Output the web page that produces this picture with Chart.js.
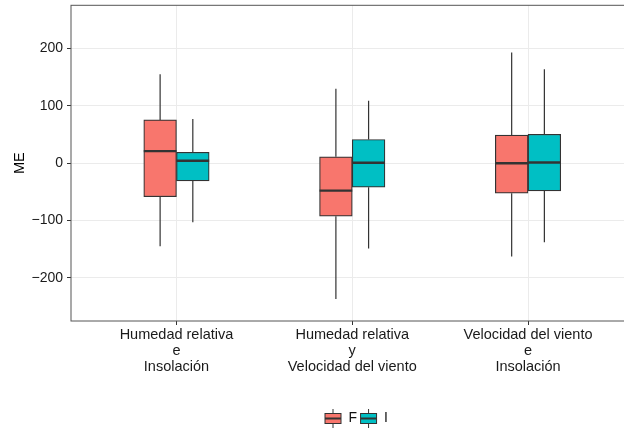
<!DOCTYPE html>
<html>
<head>
<meta charset="utf-8">
<script src="https://cdn.jsdelivr.net/npm/chart.js@4"></script>
<style>
  html, body { margin: 0; padding: 0; background: #fff; overflow: hidden; }
  #wrap { width: 650px; height: 440px; }
</style>
</head>
<body>
<div id="wrap"><canvas id="grafico" width="650" height="440"></canvas></div>
<script>
// Categorias (eje x) y valores
const categorias = [
  ['Humedad relativa', 'e', 'Insolación'],
  ['Humedad relativa', 'y', 'Velocidad del viento'],
  ['Velocidad del viento', 'e', 'Insolación']
];
const posiciones = [1, 2, 3];
const ticksY = [-200, -100, 0, 100, 200];

// Serie F
const minF = [-145, -237, -163];
const q1F = [-58.5, -92.5, -52.5];
const medF = [21, -48, -0.3];
const q3F = [75.5, 11, 49];
const maxF = [155, 130, 193];

// Serie I
const minI = [-103, -149, -138];
const q1I = [-31, -42, -48.5];
const medI = [4.3, 0.8, 1.2];
const q3I = [19, 41.3, 50.3];
const maxI = [77, 108.7, 164];

const colorF = '#F8766D';
const colorI = '#00BFC4';
const linea = '#333333';

const series = [
  { nombre: 'F', color: colorF, min: minF, q1: q1F, med: medF, q3: q3F, max: maxF },
  { nombre: 'I', color: colorI, min: minI, q1: q1I, med: medI, q3: q3I, max: maxI }
];

// icono de leyenda (mini boxplot)
function iconoCaja(color) {
  const c = document.createElement('canvas');
  c.width = 19; c.height = 19;
  const g = c.getContext('2d');
  g.strokeStyle = linea;
  g.lineWidth = 1;
  g.beginPath(); g.moveTo(9.5, 0); g.lineTo(9.5, 19); g.stroke();
  g.fillStyle = color;
  g.fillRect(1, 4, 17, 11);
  g.strokeRect(1.5, 4.5, 16, 10);
  g.lineWidth = 2;
  g.beginPath(); g.moveTo(1, 9.5); g.lineTo(18, 9.5); g.stroke();
  return c;
}

const datasets = series.map(s => ({
  label: s.nombre,
  data: posiciones.map((p, i) => ({ x: p, y: [s.q1[i], s.q3[i]] })),
  backgroundColor: s.color,
  borderColor: linea,
  borderWidth: 1.2,
  borderSkipped: false,
  barThickness: 32.7,
  stats: s
}));

const fmt = v => v < 0 ? '\u2212' + Math.abs(v) : String(v);

const cajas = {
  id: 'cajas',
  beforeDatasetsDraw(chart) {
    const ctx = chart.ctx;
    const y = chart.scales.y;
    ctx.save();
    // bigotes
    chart.data.datasets.forEach((ds, d) => {
      const meta = chart.getDatasetMeta(d);
      meta.data.forEach((bar, i) => {
        const s = ds.stats;
        ctx.strokeStyle = linea;
        ctx.lineWidth = 1.2;
        ctx.beginPath();
        ctx.moveTo(bar.x, y.getPixelForValue(s.max[i]));
        ctx.lineTo(bar.x, y.getPixelForValue(s.q3[i]));
        ctx.moveTo(bar.x, y.getPixelForValue(s.q1[i]));
        ctx.lineTo(bar.x, y.getPixelForValue(s.min[i]));
        ctx.stroke();
      });
    });
    ctx.restore();
  },
  afterDatasetsDraw(chart) {
    const ctx = chart.ctx;
    const y = chart.scales.y;
    const a = chart.chartArea;
    ctx.save();
    // medianas
    chart.data.datasets.forEach((ds, d) => {
      const meta = chart.getDatasetMeta(d);
      meta.data.forEach((bar, i) => {
        const py = y.getPixelForValue(ds.stats.med[i]);
        ctx.strokeStyle = linea;
        ctx.lineWidth = 2.4;
        ctx.beginPath();
        ctx.moveTo(bar.x - bar.width / 2, py);
        ctx.lineTo(bar.x + bar.width / 2, py);
        ctx.stroke();
      });
    });
    // borde del panel
    ctx.strokeStyle = '#555555';
    ctx.lineWidth = 1;
    ctx.strokeRect(a.left, a.top, a.right - a.left, a.bottom - a.top);
    ctx.restore();
  }
};

new Chart(document.getElementById('grafico'), {
  type: 'bar',
  data: { datasets },
  options: {
    responsive: false,
    animation: false,
    layout: { padding: { top: 5.3, left: 0, right: 8.6, bottom: 4.5 } },
    plugins: {
      tooltip: { enabled: false },
      legend: {
        position: 'bottom',
        fullSize: false,
        labels: {
          usePointStyle: true,
          pointStyleWidth: 17,
          padding: 3,
          color: '#111',
          font: { family: 'Liberation Sans', size: 14 },
          generateLabels: chart => series.map((s, i) => ({
            text: s.nombre,
            pointStyle: iconoCaja(s.color),
            fontColor: '#111',
            datasetIndex: i,
            hidden: false,
            lineWidth: 0
          }))
        }
      }
    },
    scales: {
      x: {
        type: 'linear',
        min: 0.4,
        max: 3.645,
        offset: false,
        afterBuildTicks: sc => { sc.ticks = posiciones.map(v => ({ value: v })); },
        afterFit: sc => { sc.height = 87.5; sc.paddingLeft = 0; sc.paddingRight = 0; },
        grid: { offset: false, color: '#EBEBEB', lineWidth: 1, tickColor: linea, tickLength: 4 },
        border: { display: false },
        ticks: {
          padding: 2.5,
          maxRotation: 0,
          autoSkip: false,
          color: '#1a1a1a',
          font: { family: 'Liberation Sans', size: 14.5, lineHeight: 1.1 },
          callback: v => categorias[posiciones.indexOf(v)] || ''
        }
      },
      y: {
        min: -275.5,
        max: 275.5,
        afterBuildTicks: sc => { sc.ticks = ticksY.map(v => ({ value: v })); },
        afterFit: sc => { sc.width = 71; sc.paddingTop = 0; sc.paddingBottom = 0; },
        grid: { color: '#EBEBEB', lineWidth: 1, tickColor: linea, tickLength: 4 },
        border: { display: false },
        ticks: {
          padding: 4,
          color: '#1a1a1a',
          font: { family: 'Liberation Sans', size: 14 },
          callback: v => fmt(v)
        },
        title: {
          display: true,
          text: 'ME',
          color: '#000',
          padding: { top: 11, bottom: 0 },
          font: { family: 'Liberation Sans', size: 14.5 }
        }
      }
    }
  },
  plugins: [cajas]
});
</script>
</body>
</html>
